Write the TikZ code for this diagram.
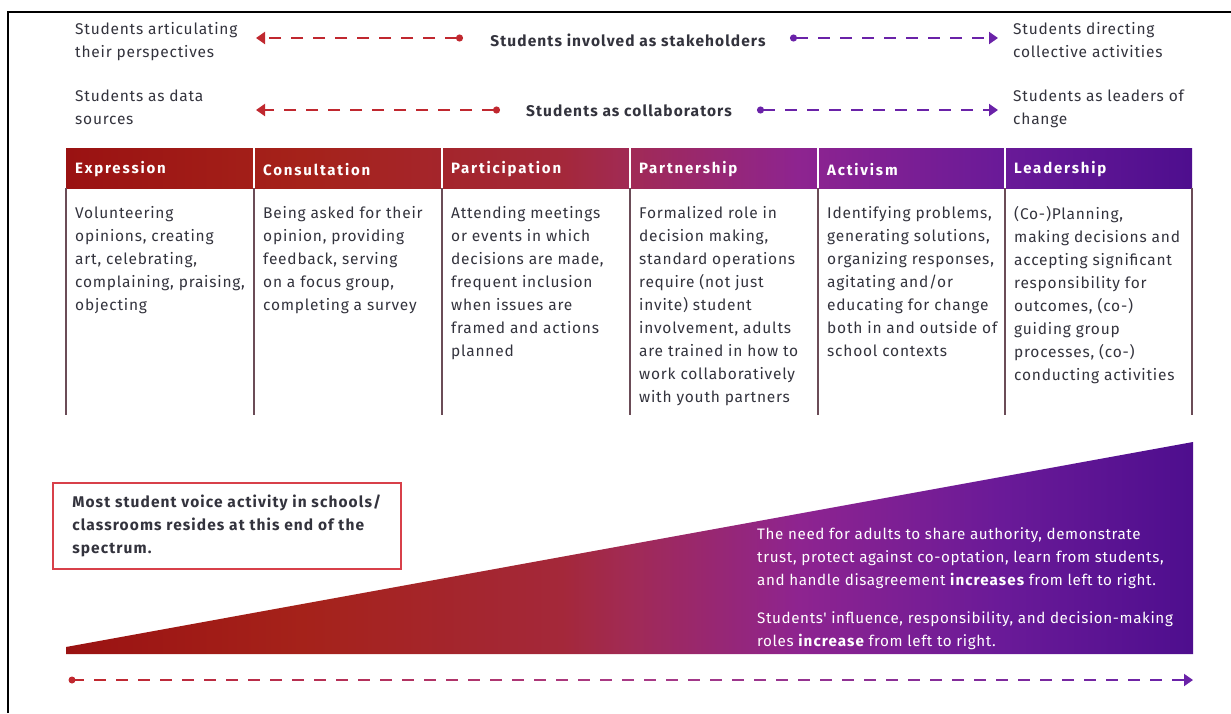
\documentclass[tikz,border=0pt]{standalone}
\usepackage{fontspec}
\setmainfont{Fira Sans}[LetterSpace=5]
\newfontfamily\bdfont{Fira Sans}[LetterSpace=7]
\newfontfamily\hdfont{Fira Sans}[LetterSpace=12]
\newfontfamily\wgfont{Fira Sans}[LetterSpace=4]
\usetikzlibrary{arrows.meta}

\definecolor{txt}{HTML}{33333D}
\definecolor{dred}{HTML}{C0282F}
\definecolor{dmag}{HTML}{A83A86}
\definecolor{dpur}{HTML}{6A22A8}
\definecolor{colline}{HTML}{6B4C57}
\definecolor{boxred}{HTML}{D8404A}
\definecolor{c0}{HTML}{9A1212}
\definecolor{c1}{HTML}{A5221A}
\definecolor{c2}{HTML}{A4283A}
\definecolor{c3}{HTML}{A12A55}
\definecolor{c4}{HTML}{8E2490}
\definecolor{c5}{HTML}{6A1A98}
\definecolor{c6}{HTML}{4E0E8E}

% spectrum from red to purple; the path box maps onto 25bp..75bp
\pgfdeclarehorizontalshading{spectrum}{100bp}{color(0bp)=(c0); color(25bp)=(c0);
  color(35.5bp)=(c1); color(47bp)=(c2); color(50bp)=(c3); color(57.5bp)=(c4);
  color(66.5bp)=(c5); color(75bp)=(c6); color(100bp)=(c6)}

\tikzset{
  body/.style={anchor=north west, inner sep=0pt, text=txt, align=left,
    font=\fontsize{15.5}{23}\selectfont},
  wedgetext/.style={anchor=north west, inner sep=0pt, text=white, align=left,
    font=\wgfont\fontsize{15.2}{23}\selectfont},
  midlabel/.style={inner sep=0pt, text=txt, font=\bdfont\fontsize{15.5}{23}\selectfont\bfseries},
  headtext/.style={anchor=west, inner sep=0pt, text=white,
    font=\hdfont\fontsize{15}{16}\selectfont\bfseries},
  redarrow/.style={dred, line width=2pt, dash pattern=on 12pt off 10pt,
    {Circle[length=7pt]}-{Triangle[length=9pt,width=12pt]}},
  purarrow/.style={dpur, line width=2pt, dash pattern=on 12pt off 10pt,
    {Circle[length=7pt]}-{Triangle[length=9pt,width=12pt]}},
  colsep/.style={colline, line width=2pt},
}

\begin{document}
\begin{tikzpicture}[x=1pt, y=-1pt]
\useasboundingbox (0,0) rectangle (1231,713);

% frame
\draw[black, line width=2.5pt] (8,713) -- (8,12) -- (1231,12);

% top rows
\node[body] (art) at (75,22) {Students articulating\\their perspectives};
\node[midlabel] (stake) at (628,40) {Students involved as stakeholders};
\node[body] (dir) at (1013,22) {Students directing\\collective activities};
\coordinate (r1a) at (463,38);  \coordinate (r1b) at (256,38);
\coordinate (p1a) at (790,38);  \coordinate (p1b) at (998,38);
\draw[redarrow] (r1a) -- (r1b);
\draw[purarrow] (p1a) -- (p1b);

\node[body] (data) at (75,90) {Students as data\\sources};
\node[midlabel] (collab) at (629,111) {Students as collaborators};
\node[body] (lead) at (1013,90) {Students as leaders of\\change};
\coordinate (r2a) at (500,110); \coordinate (r2b) at (256,110);
\coordinate (p2a) at (757,110); \coordinate (p2b) at (998,110);
\draw[redarrow] (r2a) -- (r2b);
\draw[purarrow] (p2a) -- (p2b);

% header band
\shade[shading=spectrum] (66,148) rectangle (1192,188);
\foreach \x in {254,442,630,818,1005}
  \draw[white, line width=1.5pt] (\x,148) -- (\x,188);
\node[headtext] (h1) at (75,169.5) {Expression};
\node[headtext] (h2) at (263,169.5) {Consultation};
\node[headtext] (h3) at (451,169.5) {Participation};
\node[headtext] (h4) at (639,169.5) {Partnership};
\node[headtext] (h5) at (827,169.5) {Activism};
\node[headtext] (h6) at (1014,169.5) {Leadership};

% column rules
\foreach \x in {66,254,442,630,818,1005,1192}
  \draw[colsep] (\x,188) -- (\x,415);

% column texts
\node[body] (b1) at (75,206) {Volunteering\\opinions, creating\\art, celebrating,\\complaining, praising,\\objecting};
\node[body] (b2) at (263,206) {Being asked for their\\opinion, providing\\feedback, serving\\on a focus group,\\completing a survey};
\node[body] (b3) at (451,206) {Attending meetings\\or events in which\\decisions are made,\\frequent inclusion\\when issues are\\framed and actions\\planned};
\node[body] (b4) at (639,206) {Formalized role in\\decision making,\\standard operations\\require (not just\\invite) student\\involvement, adults\\are trained in how to\\work collaboratively\\with youth partners};
\node[body] (b5) at (827,206) {Identifying problems,\\generating solutions,\\organizing responses,\\agitating and/or\\educating for change\\both in and outside of\\school contexts};
\node[body] (b6) at (1014,206) {(Co-)Planning,\\making decisions and\\accepting significant\\responsibility for\\outcomes, (co-)\\guiding group\\processes, (co-)\\conducting activities};

% note box
\node[draw=boxred, line width=1.5pt, anchor=north west, minimum width=348pt,
  minimum height=86pt, inner sep=0pt, text=txt, align=left,
  font=\bdfont\fontsize{15.5}{23}\selectfont\bfseries] (note) at (52,482)
  {\raisebox{-2pt}{}Most student voice activity in schools/\\classrooms resides at this end of the\\spectrum.};

% wedge
\shade[shading=spectrum] (66,647) -- (1193,442) -- (1193,654) -- (66,654) -- cycle;
\node[wedgetext] (need) at (757,527)
  {The need for adults to share authority, demonstrate\\trust, protect against co-optation, learn from students,\\and handle disagreement {\bdfont\bfseries increases} from left to right.};
\node[wedgetext] (infl) at (757,611)
  {Students' influence, responsibility, and decision-making\\roles {\bdfont\bfseries increase} from left to right.};

% bottom spectrum arrow
\coordinate (sL) at (72,680);
\coordinate (sR) at (1193,680);
\fill[dred] (sL) circle (3.5pt);
\draw[dred, line width=2pt] (sL) -- ([xshift=12pt]sL);
\foreach \i in {0,...,24}{
  \pgfmathsetmacro\xa{22+22*\i}
  \pgfmathtruncatemacro\p{100-100*\i/24}
  \draw[dred!\p!dmag, line width=2pt] ([xshift=\xa pt]sL) -- ([xshift=\xa pt+12pt]sL);
}
\foreach \i in {25,...,49}{
  \pgfmathsetmacro\xa{22+22*\i}
  \pgfmathtruncatemacro\p{100-100*(\i-25)/24}
  \draw[dmag!\p!dpur, line width=2pt] ([xshift=\xa pt]sL) -- ([xshift=\xa pt+12pt]sL);
}
\draw[dpur, line width=2pt, -{Triangle[length=9pt,width=12pt]}] ([xshift=-14pt]sR) -- (sR);
\end{tikzpicture}
\end{document}
